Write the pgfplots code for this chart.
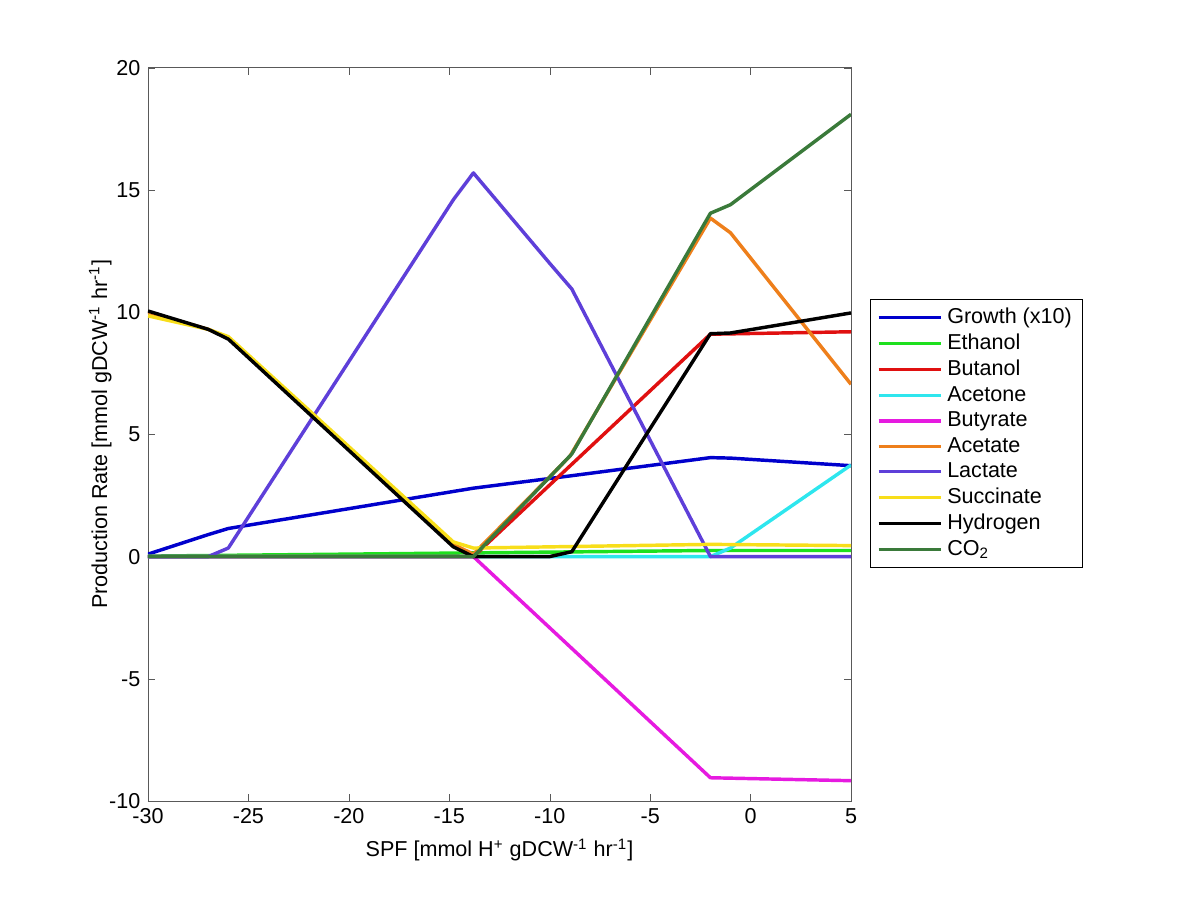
\documentclass[border=0pt]{standalone}
\usepackage{pgfplots}
\pgfplotsset{compat=1.18}
\usepackage{fontspec}
\setmainfont{Liberation Sans}
\definecolor{cGrowth}{HTML}{0000CC}
\definecolor{cEthanol}{HTML}{1EE01E}
\definecolor{cButanol}{HTML}{E01010}
\definecolor{cAcetone}{HTML}{2EE6EE}
\definecolor{cButyrate}{HTML}{E61AE0}
\definecolor{cAcetate}{HTML}{EE7F1B}
\definecolor{cLactate}{HTML}{5E3FD9}
\definecolor{cSuccinate}{HTML}{F8DE1A}
\definecolor{cHydrogen}{HTML}{000000}
\definecolor{cCO}{HTML}{3A7A3A}
\begin{document}
\fontsize{10}{12}\selectfont
\begin{tikzpicture}
\begin{axis}[
  at={(0,0)}, anchor=south west,
  scale only axis,
  width=11.46cm, height=11.95cm,
  xmin=-30, xmax=5, ymin=-10, ymax=20,
  xtick={-30,-25,...,5}, ytick={-10,-5,...,20},
  tick align=inside, major tick length=0.11cm,
  axis line style={gray!70!black},
  tick style={gray!70!black},
  /pgf/number format/assume math mode=true,
  ticklabel style={font=\fontsize{10}{12}\selectfont},
  xlabel={SPF [mmol H\textsuperscript{+} gDCW\textsuperscript{-1} hr\textsuperscript{-1}]},
  ylabel={Production Rate [mmol gDCW\textsuperscript{-1} hr\textsuperscript{-1}]},
  ylabel shift=-8pt,
  label style={font=\fontsize{10}{12}\selectfont},
  every axis plot/.append style={line width=1.6pt, line join=round},
  legend cell align=left,
  legend style={at={(1.027,0.685)}, anchor=north west, draw=black, line width=0.4pt,
    font=\fontsize{10}{12}\selectfont, row sep=-0.6pt},
  legend image code/.code={\draw[#1] (0.08cm,0cm) -- (1.1cm,0cm);},
]
\addplot[cGrowth] coordinates {(-30,0.1)(-27,0.9)(-26,1.15)(-13.8,2.8)(-9,3.3)(-2,4.05)(-1,4.03)(5,3.72)};
\addlegendentry{Growth (x10)}
\addplot[cEthanol] coordinates {(-30,0.02)(-14,0.15)(-2,0.25)(5,0.25)};
\addlegendentry{Ethanol}
\addplot[cButanol] coordinates {(-30,0)(-13.8,0)(-2,9.1)(5,9.2)};
\addlegendentry{Butanol}
\addplot[cAcetone] coordinates {(-30,0)(-2,0.0)(-1,0.35)(5,3.75)};
\addlegendentry{Acetone}
\addplot[cButyrate] coordinates {(-30,0)(-13.8,0)(-2,-9.05)(5,-9.17)};
\addlegendentry{Butyrate}
\addplot[cAcetate] coordinates {(-30,10)(-27,9.3)(-26,8.95)(-14.8,0.5)(-13.8,0.1)(-9,4.1)(-2,13.85)(-1,13.25)(5,7.05)};
\addlegendentry{Acetate}
\addplot[cLactate] coordinates {(-30,0)(-27,0)(-26,0.35)(-14.8,14.6)(-13.8,15.7)(-10,12.0)(-8.9,10.95)(-2,0)(5,0)};
\addlegendentry{Lactate}
\addplot[cSuccinate] coordinates {(-30,9.85)(-27,9.3)(-26,9.0)(-14.8,0.6)(-13.8,0.35)(-2,0.5)(5,0.45)};
\addlegendentry{Succinate}
\addplot[cHydrogen] coordinates {(-30,10.05)(-27,9.3)(-26,8.9)(-14.8,0.4)(-13.8,0)(-10,0)(-8.9,0.2)(-2,9.12)(-1,9.15)(5,9.97)};
\addlegendentry{Hydrogen}
\addplot[cCO] coordinates {(-30,0)(-13.8,0)(-8.9,4.2)(-2,14.05)(-1,14.4)(5,18.1)};
\addlegendentry{CO\textsubscript{2}}
\end{axis}
\path (-2.412,-1.614) rectangle (17.148,13.056);
\end{tikzpicture}
\end{document}
